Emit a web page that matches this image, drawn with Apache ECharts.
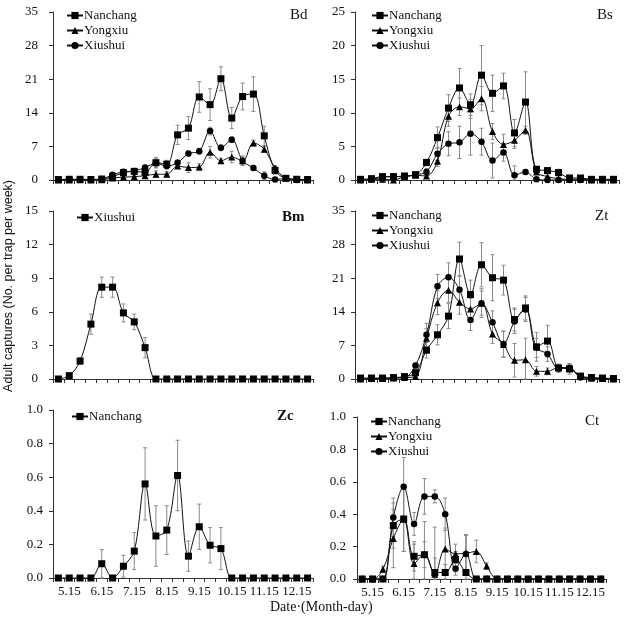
<!DOCTYPE html>
<html>
<head>
<meta charset="utf-8">
<script src="https://cdn.jsdelivr.net/npm/echarts@6/dist/echarts.min.js"></script>
<style>
html,body{margin:0;padding:0;background:#fff;}
#chart{width:628px;height:623px;}
</style>
</head>
<body>
<div id="chart"></div>
<script>
// Categories (Month.day), one point every ~10 days
const dates = ['5.5','5.15','5.25','6.5','6.15','6.25','7.5','7.15','7.25','8.5','8.15','8.25',
               '9.5','9.15','9.25','10.5','10.15','10.25','11.5','11.15','11.25','12.5','12.15','12.25'];

// Bd
const bdNanchang    = [0.1,0.15,0.15,0.1,0.2,0.7,1.5,1.8,1.6,3.6,3.3,9.4,10.8,17.3,15.7,21.1,12.9,17.4,17.9,9.2,2.0,0.35,0.15,0.1];
const bdNanchangErr = [0,0,0,0,0,0.3,0.4,0.5,0.6,1.1,0.8,2.0,2.4,3.2,3.3,2.5,2.2,2.8,3.6,2.0,0.8,0.3,0,0];
const bdYongxiu     = [0,0,0.05,0,0.05,0.4,0.6,0.7,0.9,1.2,1.2,2.9,2.6,2.7,5.8,4.0,4.8,4.0,7.7,6.4,2.5,0.4,0.1,0];
const bdYongxiuErr  = [0,0,0,0,0,0.2,0.3,0.3,0.3,0.7,0.5,0.5,1.0,0.7,1.2,0.5,1.2,1.0,0.6,0.6,0.5,0.2,0,0];
const bdXiushui     = [0.05,0.1,0.1,0.1,0.2,1.1,1.7,1.9,2.6,3.5,2.9,3.6,5.5,6.0,10.2,6.7,8.4,4.0,2.5,0.9,0.1,0.3,0,0];
const bdXiushuiErr  = [0,0,0,0,0,0.3,0.4,0.4,0.4,0.9,0.6,0.6,0.5,0.6,0.8,0.6,0.6,0.8,0.5,0.8,0,0,0,0];

// Bs
const bsNanchang    = [0.1,0.2,0.5,0.5,0.6,0.8,2.6,6.3,10.7,13.7,11.2,15.6,12.9,14.0,7.0,11.6,1.6,1.4,1.1,0.3,0.3,0.1,0.1,0.1];
const bsNanchangErr = [0,0.2,0.3,0.3,0.3,0.2,0.5,1.6,2.0,2.9,1.6,4.4,2.7,1.9,2.0,4.5,0.4,0.3,0.5,0,0.2,0,0,0];
const bsYongxiu     = [0,0.1,0.1,0,0.5,0.7,0.6,2.8,9.5,10.9,10.6,12.1,7.2,5.3,5.9,7.4,1.2,0.5,0.2,0.1,0.1,0,0,0];
const bsYongxiuErr  = [0,0,0,0,0,0,0.3,0.8,1.5,1.3,1.4,1.8,1.2,1.5,1.2,0.6,0.3,0.2,0,0,0,0,0,0];
const bsXiushui     = [0,0.1,0.4,0.5,0.5,0.8,1.2,3.9,5.4,5.6,6.9,5.7,2.9,4.1,0.7,1.2,0.1,0,0,0,0,0,0,0];
const bsXiushuiErr  = [0,0,0,0,0,0,0.5,1.0,1.8,2.4,3.2,2.0,2.6,1.3,1.4,0.3,0,0,0,0,0,0,0,0];

// Bm
const bmXiushui     = [0,0.3,1.6,4.9,8.2,8.2,5.9,5.1,2.8,0,0,0,0,0,0,0,0,0,0,0,0,0,0,0];
const bmXiushuiErr  = [0,0.1,0.3,0.9,0.9,0.9,0.8,0.7,0.9,0,0,0,0,0,0,0,0,0,0,0,0,0,0,0];

// Zt
const ztNanchang    = [0.2,0.2,0.2,0.3,0.5,1.3,6.0,9.2,13.1,25.0,17.6,23.8,21.1,20.6,12.4,14.8,6.7,7.9,2.3,2.1,0.6,0.3,0.2,0.1];
const ztNanchangErr = [0,0,0,0,0,0.6,1.6,2.1,2.6,3.5,3.0,4.6,4.8,3.1,2.4,2.5,3.0,3.3,0.8,1.1,0.4,0,0,0];
const ztYongxiu     = [0,0.1,0.1,0.2,0.3,0.5,8.5,15.9,18.5,16.0,14.6,15.8,9.4,7.2,3.9,4.0,1.6,1.6,2.4,2.3,0.6,0.2,0.1,0];
const ztYongxiuErr  = [0,0,0,0,0,0.3,2.0,2.5,2.5,2.5,2.2,2.5,2.0,2.7,3.5,4.5,1.0,0.7,0.6,0.8,0.3,0,0,0];
const ztXiushui     = [0,0,0.1,0.2,0.3,2.8,9.2,19.3,21.2,18.6,12.3,15.8,11.8,7.3,12.0,14.5,6.5,5.2,2.2,2.3,0.3,0.1,0.1,0];
const ztXiushuiErr  = [0,0,0,0,0,0.5,2.4,2.5,3.0,2.8,2.2,3.0,2.4,2.7,2.5,2.5,2.0,1.5,0.8,0.8,0.2,0,0,0];

// Zc
const zcNanchang    = [0,0,0,0,0.085,0,0.07,0.16,0.56,0.25,0.285,0.61,0.13,0.305,0.195,0.175,0,0,0,0,0,0,0,0];
const zcNanchangErr = [0,0,0,0,0.085,0,0.065,0.11,0.215,0.18,0.145,0.21,0.09,0.135,0.105,0.125,0,0,0,0,0,0,0,0];

// Ct
const ctNanchang    = [0,0,0,0.33,0.37,0.14,0.15,0.04,0.04,0.12,0.04,0,0,0,0,0,0,0,0,0,0,0,0,0];
const ctNanchangErr = [0,0,0,0.14,0.2,0.09,0.08,0.28,0.05,0.05,0.23,0,0,0,0,0,0,0,0,0,0,0,0,0];
const ctYongxiu     = [0,0,0.06,0.25,0.37,0.095,0.155,0.03,0.185,0.155,0.16,0.17,0.08,0,0,0,0,0,0,0,0,0,0,0];
const ctYongxiuErr  = [0,0,0.02,0.18,0.2,0.12,0.2,0.1,0.13,0.06,0.11,0.07,0.02,0,0,0,0,0,0,0,0,0,0,0];
const ctXiushui     = [0,0,0,0.38,0.57,0.34,0.51,0.51,0.40,0.063,0.155,0,0,0,0,0,0,0,0,0,0,0,0,0];
const ctXiushuiErr  = [0,0,0,0.12,0.18,0.07,0.11,0.04,0.1,0.04,0.12,0,0,0,0,0,0,0,0,0,0,0,0,0];

// Y-axis ranges per panel
const yMax      = [35, 25, 15, 35, 1.0, 1.0];
const yInterval = [7, 5, 3, 7, 0.2, 0.2];
const panelLabels = ['Bd','Bs','Bm','Zt','Zc','Ct'];

const SERIF = '"Liberation Serif","Times New Roman",serif';
const SANS = '"Liberation Sans",Arial,sans-serif';
const AX = '#333';

// layout
const grids = [
  {left:53, top:12, width:260, height:168},
  {left:355, top:12, width:264, height:168},
  {left:53, top:211, width:260, height:168},
  {left:355, top:211, width:264, height:168},
  {left:53, top:410, width:260, height:168},
  {left:357, top:417, width:249, height:162}
];
const labelMargin = [15,10,15,10,10,11];
const legendPos = [[66,9],[371,9],[76,211],[371,209],[71,410],[370,415]];
const titlePos = [[290,8,'normal'],[597,8,'normal'],[282,210,'bold'],[595,209,'normal'],[277,409,'bold'],[585,414,'normal']];

const panels = [
  [['Nanchang',bdNanchang,bdNanchangErr,'rect'],['Yongxiu',bdYongxiu,bdYongxiuErr,'triangle'],['Xiushui',bdXiushui,bdXiushuiErr,'circle']],
  [['Nanchang',bsNanchang,bsNanchangErr,'rect'],['Yongxiu',bsYongxiu,bsYongxiuErr,'triangle'],['Xiushui',bsXiushui,bsXiushuiErr,'circle']],
  [['Xiushui',bmXiushui,bmXiushuiErr,'rect']],
  [['Nanchang',ztNanchang,ztNanchangErr,'rect'],['Yongxiu',ztYongxiu,ztYongxiuErr,'triangle'],['Xiushui',ztXiushui,ztXiushuiErr,'circle']],
  [['Nanchang',zcNanchang,zcNanchangErr,'rect']],
  [['Nanchang',ctNanchang,ctNanchangErr,'rect'],['Yongxiu',ctYongxiu,ctYongxiuErr,'triangle'],['Xiushui',ctXiushui,ctXiushuiErr,'circle']]
];

const symSize = {rect:7, triangle:7, circle:6.5};

function errRender(params, api){
  const x = api.value(0), v = api.value(1), e = api.value(2);
  if (!(e > 0)) return;
  const top = api.coord([x, v + e]);
  const bot = api.coord([x, Math.max(0, v - e)]);
  const w = 2;
  const st = {stroke:'#8a8a8a', lineWidth:1};
  return {type:'group', children:[
    {type:'line', shape:{x1:top[0],y1:top[1],x2:bot[0],y2:bot[1]}, style:st},
    {type:'line', shape:{x1:top[0]-w,y1:top[1],x2:top[0]+w,y2:top[1]}, style:st},
    {type:'line', shape:{x1:bot[0]-w,y1:bot[1],x2:bot[0]+w,y2:bot[1]}, style:st}
  ]};
}

const xAxes = [], yAxes = [], series = [], legends = [], titles = [];
panels.forEach((p, k) => {
  const bottomRow = k >= 4;
  xAxes.push({
    type:'category', gridIndex:k, data:dates, boundaryGap:true,
    axisLine:{show:true, lineStyle:{color:AX, width:1}},
    axisTick:{show:true, interval:0, length:4, lineStyle:{color:AX}},
    axisLabel:{show:bottomRow, interval:(i)=> i % 3 === 1, margin:7, color:'#111',
      fontFamily:SERIF, fontSize:13},
    splitLine:{show:false}
  });
  yAxes.push({
    type:'value', gridIndex:k, min:0, max:yMax[k], interval:yInterval[k],
    axisLine:{show:true, lineStyle:{color:AX, width:1}},
    axisTick:{show:true, length:4, lineStyle:{color:AX}},
    axisLabel:{margin:labelMargin[k], color:'#111', fontFamily:SERIF, fontSize:13,
      formatter: yMax[k] <= 1 ? (v)=> v.toFixed(1) : (v)=> String(v)},
    splitLine:{show:false}
  });
  const names = [];
  p.forEach(([name, vals, errs, sym]) => {
    const id = panelLabels[k] + '|' + name;
    names.push(id);
    series.push({
      type:'line', name:id, xAxisIndex:k, yAxisIndex:k, z:3,
      data: vals, smooth:0.35, symbol:sym, symbolSize:symSize[sym], showAllSymbol:true,
      lineStyle:{color:'#111', width:1}, itemStyle:{color:'#000'},
      animation:false
    });
    series.push({
      type:'custom', name:id + '#err', xAxisIndex:k, yAxisIndex:k, z:1, silent:true,
      renderItem:errRender, encode:{x:0, y:1},
      data: vals.map((v,i)=>[i, v, errs[i]])
    });
  });
  legends.push({
    data: names, orient:'vertical', left:legendPos[k][0], top:legendPos[k][1],
    itemWidth:16, itemHeight:9, itemGap:2, padding:0,
    formatter:(n)=> n.split('|')[1],
    textStyle:{fontFamily:SERIF, fontSize:13, color:'#111', padding:[0,0,0,-4]}
  });
  titles.push({
    text: panelLabels[k], left:titlePos[k][0], top:titlePos[k][1], padding:0,
    textStyle:{fontFamily:SERIF, fontSize:15, fontWeight:titlePos[k][2], color:'#111'}
  });
});

const chart = echarts.init(document.getElementById('chart'), null, {renderer:'canvas'});
chart.setOption({
  animation:false,
  backgroundColor:'#fff',
  title: titles,
  legend: legends,
  grid: grids,
  xAxis: xAxes,
  yAxis: yAxes,
  series: series,
  graphic: [
    {type:'text', left:2, top:180, rotation:Math.PI/2,
     style:{text:'Adult captures (No. per trap per week)', fontFamily:SANS, fontSize:12.5, fill:'#111'}},
    {type:'text', left:270, top:600,
     style:{text:'Date·(Month-day)', fontFamily:SERIF, fontSize:14, fill:'#111'}}
  ]
});
</script>
</body>
</html>
